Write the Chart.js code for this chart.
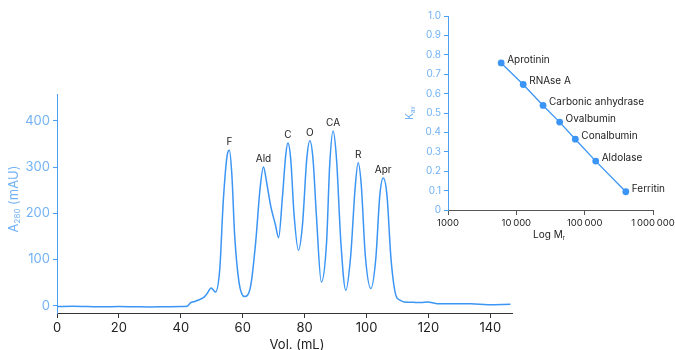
<!DOCTYPE html>
<html>
<head>
<meta charset="utf-8" />
<script src="https://cdn.jsdelivr.net/npm/chart.js@4/dist/chart.umd.min.js"></script>
<style>
  body { margin: 0; background: #fff; overflow: hidden; }
  #wrap { position: relative; width: 675px; height: 350px; }
  #main { position: absolute; left: 0; top: 0; width: 675px; height: 350px; }
  #inset { position: absolute; left: 400px; top: 0; width: 275px; height: 240px; }
</style>
</head>
<body>
<div id="wrap">
  <canvas id="main" width="675" height="350"></canvas>
  <canvas id="inset" width="275" height="240"></canvas>
</div>
<script>
// chromatogram (mL / mAU)
const volume = [
  0, 5, 10, 15, 20, 25, 30, 35, 40, 42, 43.1, 44.5, 46.4, 47.6, 48.5, 49.8,
  51.2, 52.6, 53.7, 55.0, 55.7, 56.5, 57.4, 58.8, 60.6, 62.6, 64.2, 65.6,
  66.7, 67.7, 69.0, 70.6, 71.6, 72.8, 73.9, 74.6, 75.5, 76.6, 78.0, 79.3,
  80.7, 81.7, 82.7, 83.8, 85.4, 87.1, 88.1, 89.2, 90.3, 91.7, 93.3, 94.9,
  96.3, 97.3, 98.3, 99.6, 101.4, 103.0, 104.3, 105.4, 106.6, 107.9, 109.5,
  110.8, 112.2, 115, 117.6, 119.7, 123, 128, 133.7, 139.2, 146.5,
];
const absorbance = [
  -2, -1.5, -2, -2.5, -2, -2.5, -3, -2.5, -2, -1.5, 6, 9, 14, 19, 26, 38,
  29.5, 80, 224, 326, 336, 282, 152, 51, 19.5, 44, 138, 253,
  300, 268, 217, 174, 147, 232, 326, 352, 318, 196, 120, 174,
  318, 357, 318, 196, 51, 138, 304, 378, 318, 138, 33, 109,
  253, 309, 261, 109, 37, 102, 239, 276, 239, 102, 22,
  12, 8, 7, 6.5, 8, 4, 4, 4, 2, 3,
];
const peakLabels = ["F", "Ald", "C", "O", "CA", "R", "Apr"];
const peakVolumes = [55.7, 66.7, 74.6, 81.7, 89.2, 97.3, 105.4];
const volTicks = [0, 20, 40, 60, 80, 100, 120, 140];
const absTicks = [0, 100, 200, 300, 400];

// calibration inset
const proteinNames = [
  "Aprotinin", "RNAse A", "Carbonic anhydrase", "Ovalbumin",
  "Conalbumin", "Aldolase", "Ferritin",
];
const molWeights = [6000, 12600, 24600, 43000, 73000, 145000, 400000];
const kavValues = [0.758, 0.647, 0.539, 0.453, 0.365, 0.252, 0.094];
const mrTicks = [1000, 10000, 100000, 1000000];
const mrTickLabels = ["1000", "10\u2009000", "100\u2009000", "1\u2009000\u2009000"];
const kavTicks = [0, 0.1, 0.2, 0.3, 0.4, 0.5, 0.6, 0.7, 0.8, 0.9, 1.0];

const font = "Inter, 'Noto Sans', sans-serif";
const lineBlue = "#3b95f4";
const axisBlue = "#4c9ff2";
const labelBlue = "#72b2f5";
const ink = "#222";

/*
 * draws a text made of parts, some of them as subscript.
 * @param {object} ctx - 2d context.
 * @param {array} parts - [text, isSub] pairs.
 */
const drawParts = (ctx, parts, x, y, size, color) => {
  const subSize = Math.round(size * 0.6);
  let width = 0;
  parts.forEach(([text, sub]) => {
    ctx.font = `${sub ? subSize : size}px ${font}`;
    width += ctx.measureText(text).width;
  });
  let cx = x - width / 2;
  ctx.fillStyle = color;
  ctx.textAlign = "left";
  ctx.textBaseline = "middle";
  parts.forEach(([text, sub]) => {
    ctx.font = `${sub ? subSize : size}px ${font}`;
    ctx.fillText(text, cx, sub ? y + size * 0.3 : y);
    cx += ctx.measureText(text).width;
  });
};

const fixedTicks = (values) => (scale) => {
  scale.ticks = values.map((value) => ({ value }));
};

// fixed axis size, and no extra room asked for the edge labels
const fixedSize = (key, size) => (scale) => {
  scale[key] = size;
  scale.paddingLeft = 0;
  scale.paddingRight = 0;
  scale.paddingTop = 0;
  scale.paddingBottom = 0;
};

const mainDecor = {
  id: "mainDecor",
  afterDraw: (chart) => {
    const { ctx, scales } = chart;
    ctx.save();
    // peak names above each peak
    ctx.font = `10px ${font}`;
    ctx.fillStyle = ink;
    ctx.textAlign = "center";
    ctx.textBaseline = "middle";
    peakLabels.forEach((label, i) => {
      const idx = volume.indexOf(peakVolumes[i]);
      const px = scales.x.getPixelForValue(peakVolumes[i]);
      const py = scales.y.getPixelForValue(absorbance[idx]);
      ctx.fillText(label, px, py - 8);
    });
    drawParts(ctx, [["Vol. (mL)", false]], 297, 345, 13, ink);
    ctx.translate(14, 199);
    ctx.rotate(-Math.PI / 2);
    drawParts(ctx, [["A", false], ["280", true], [" (mAU)", false]], 0, 0, 13, labelBlue);
    ctx.restore();
  },
};

const insetDecor = {
  id: "insetDecor",
  afterDraw: (chart) => {
    const { ctx, scales } = chart;
    ctx.save();
    ctx.font = `10px ${font}`;
    ctx.fillStyle = ink;
    ctx.textAlign = "left";
    ctx.textBaseline = "middle";
    proteinNames.forEach((name, i) => {
      const px = scales.x.getPixelForValue(molWeights[i]);
      const py = scales.y.getPixelForValue(kavValues[i]);
      ctx.fillText(name, px + 6, py - 3);
    });
    drawParts(ctx, [["Log M", false], ["r", true]], 149, 235, 10, ink);
    ctx.translate(10, 113);
    ctx.rotate(-Math.PI / 2);
    drawParts(ctx, [["K", false], ["av", true]], 0, 0, 10, labelBlue);
    ctx.restore();
  },
};

new Chart(document.getElementById("main"), {
  type: "line",
  data: {
    datasets: [
      {
        data: volume.map((x, i) => ({ x, y: absorbance[i] })),
        borderColor: lineBlue,
        borderWidth: 1.5,
        pointRadius: 0,
        cubicInterpolationMode: "monotone",
        fill: false,
      },
    ],
  },
  options: {
    responsive: false,
    animation: false,
    layout: { padding: { left: 0, top: 94, right: 163, bottom: 0 } },
    plugins: { legend: { display: false }, tooltip: { enabled: false } },
    scales: {
      x: {
        type: "linear",
        min: 0,
        max: 147,
        afterFit: fixedSize("height", 37),
        afterBuildTicks: fixedTicks(volTicks),
        grid: { drawOnChartArea: false, tickLength: 5, color: "#333" },
        border: { color: "#333", width: 1 },
        ticks: { color: ink, padding: 2, font: { family: font, size: 13 } },
      },
      y: {
        min: -16,
        max: 458,
        afterFit: fixedSize("width", 57),
        afterBuildTicks: fixedTicks(absTicks),
        grid: { drawOnChartArea: false, tickLength: 4, color: axisBlue },
        border: { color: axisBlue, width: 1 },
        ticks: { color: labelBlue, padding: 3, font: { family: font, size: 13 } },
      },
    },
  },
  plugins: [mainDecor],
});

new Chart(document.getElementById("inset"), {
  type: "line",
  data: {
    datasets: [
      {
        data: molWeights.map((x, i) => ({ x, y: kavValues[i] })),
        borderColor: lineBlue,
        borderWidth: 1.3,
        pointRadius: 3.4,
        pointBackgroundColor: lineBlue,
        pointBorderWidth: 0,
        tension: 0,
      },
    ],
  },
  options: {
    responsive: false,
    animation: false,
    layout: { padding: { left: 0, top: 16, right: 22, bottom: 0 } },
    plugins: { legend: { display: false }, tooltip: { enabled: false } },
    scales: {
      x: {
        type: "logarithmic",
        min: 1000,
        max: 1000000,
        afterFit: fixedSize("height", 30),
        afterBuildTicks: fixedTicks(mrTicks),
        grid: { drawOnChartArea: false, tickLength: 5, color: "#555" },
        border: { color: "#555", width: 1 },
        ticks: {
          color: ink,
          padding: 2,
          maxRotation: 0,
          font: { family: font, size: 9.5 },
          callback: (v) => mrTickLabels[mrTicks.indexOf(v)],
        },
      },
      y: {
        min: 0,
        max: 1,
        afterFit: fixedSize("width", 48),
        afterBuildTicks: fixedTicks(kavTicks),
        grid: { drawOnChartArea: false, tickLength: 4, color: axisBlue },
        border: { color: axisBlue, width: 1 },
        ticks: {
          color: labelBlue,
          padding: 3,
          font: { family: font, size: 10 },
          callback: (v) => (v === 0 ? "0" : v.toFixed(1)),
        },
      },
    },
  },
  plugins: [insetDecor],
});
</script>
</body>
</html>
